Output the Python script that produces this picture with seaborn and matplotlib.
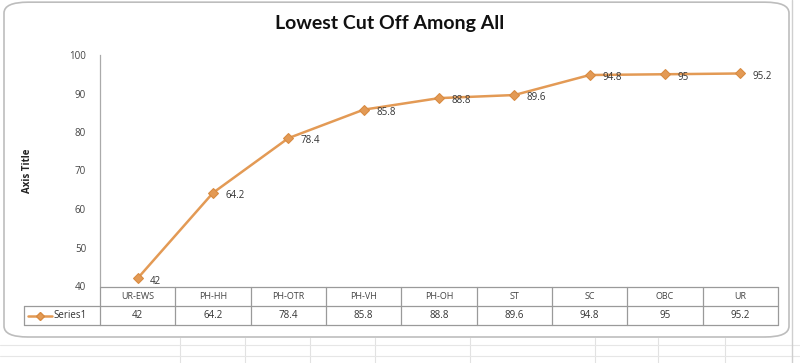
import matplotlib
matplotlib.use("Agg")
import matplotlib.pyplot as plt
import matplotlib.transforms as mtransforms
from matplotlib.patches import FancyBboxPatch
from matplotlib.lines import Line2D
import seaborn as sns
import pandas as pd

title = "Lowest Cut Off Among All"
y_title = "Axis Title"
series_name = "Series1"
categories = ["UR-EWS", "PH-HH", "PH-OTR", "PH-VH", "PH-OH", "ST", "SC", "OBC", "UR"]
values = [42, 64.2, 78.4, 85.8, 88.8, 89.6, 94.8, 95, 95.2]
y_ticks = [40, 50, 60, 70, 80, 90, 100]

sns.set_theme(style="white")
plt.rcParams['font.family'] = ['Open Sans', 'DejaVu Sans']

W, H = 800, 363
fig = plt.figure(figsize=(8, 3.63), dpi=100)
fig.patch.set_facecolor("white")

def fy(py):
    return 1 - py / H

def fx(px):
    return px / W

# spreadsheet gridlines behind the chart
for gx in [180, 245, 310, 375, 470, 595, 658, 725]:
    fig.add_artist(Line2D([fx(gx), fx(gx)], [fy(338), fy(363)], transform=fig.transFigure,
                          color="#e2e2e2", lw=0.8, zorder=0))
for gy in [345, 356]:
    fig.add_artist(Line2D([0, 1], [fy(gy), fy(gy)], transform=fig.transFigure,
                          color="#e6e6e6", lw=0.8, zorder=0))
fig.add_artist(Line2D([fx(792), fx(792)], [0, 1], transform=fig.transFigure,
                      color="#cfcfcf", lw=1.0, zorder=0))

# chart area rounded box
box = FancyBboxPatch((fx(4), fy(337)), fx(785), 337 / H - 0.006,
                     boxstyle="round,pad=0,rounding_size=0.03",
                     transform=fig.transFigure, facecolor="white",
                     edgecolor="#bdbdbd", lw=1.2, zorder=0.5)
fig.add_artist(box)

ax = fig.add_axes([fx(100), fy(286), fx(678), (286 - 55) / H])
ax.set_facecolor("none")
ax.set_zorder(2)

df = pd.DataFrame({"cat": categories, "val": values})
df["pos"] = range(len(categories))
color = "#e39a55"
sns.lineplot(data=df, x="pos", y="val", ax=ax, color=color, lw=1.8,
             marker="D", markersize=5, markeredgecolor="#d88a40", sort=False)

for i, v in enumerate(values):
    ax.annotate(f"{v:g}", (i, v), xytext=(9, -2), textcoords="offset points",
                fontsize=7, color="#333333", va="center", ha="left")

ax.set_xlim(-0.5, len(categories) - 0.5)
ax.set_ylim(40, 100)
ax.set_yticks(y_ticks)
ax.set_yticklabels([str(t) for t in y_ticks], fontsize=7, color="#444444")
ax.tick_params(axis="y", pad=10, length=0)
ax.set_xticks([])
ax.set_xlabel("")
ax.set_ylabel(y_title, fontsize=7, fontweight="bold", labelpad=26, color="#222222")
for s in ["top", "right", "bottom"]:
    ax.spines[s].set_visible(False)
ax.spines["left"].set_color("#aaaaaa")
ax.spines["left"].set_linewidth(0.9)

fig.text(fx(390), fy(23), title, ha="center", va="center", fontsize=14,
         fontweight="bold", color="#111111", family=["Lato", "DejaVu Sans"])

# data table
trans = mtransforms.blended_transform_factory(ax.transData, fig.transFigure)
grid_c = "#9a9a9a"
n = len(categories)
y_top, y_mid, y_bot = fy(287), fy(306), fy(325)
for yy in [y_top, y_mid, y_bot]:
    fig.add_artist(Line2D([-0.5, n - 0.5], [yy, yy], transform=trans, color=grid_c, lw=0.9, zorder=3))
for yy in [y_mid, y_bot]:
    fig.add_artist(Line2D([fx(24), fx(100)], [yy, yy], transform=fig.transFigure, color=grid_c, lw=0.9, zorder=3))
for k in range(n + 1):
    fig.add_artist(Line2D([k - 0.5, k - 0.5], [y_top, y_bot], transform=trans, color=grid_c, lw=0.9, zorder=3))
fig.add_artist(Line2D([fx(24), fx(24)], [y_mid, y_bot], transform=fig.transFigure, color=grid_c, lw=0.9, zorder=3))

for i, (c, v) in enumerate(zip(categories, values)):
    fig.text(i, (y_top + y_mid) / 2, c, transform=trans, ha="center", va="center",
             fontsize=6.5, color="#444444")
    fig.text(i, (y_mid + y_bot) / 2, f"{v:g}", transform=trans, ha="center", va="center",
             fontsize=7, color="#333333")

ky = (y_mid + y_bot) / 2
fig.add_artist(Line2D([fx(28), fx(52)], [ky, ky], transform=fig.transFigure, color=color, lw=1.8, zorder=3))
fig.add_artist(Line2D([fx(40)], [ky], transform=fig.transFigure, color=color, marker="D",
                      markersize=4, markeredgecolor="#d88a40", zorder=3))
fig.text(fx(53), ky, series_name, ha="left", va="center", fontsize=7, color="#333333")

fig.savefig("out.png", dpi=100, facecolor="white")
